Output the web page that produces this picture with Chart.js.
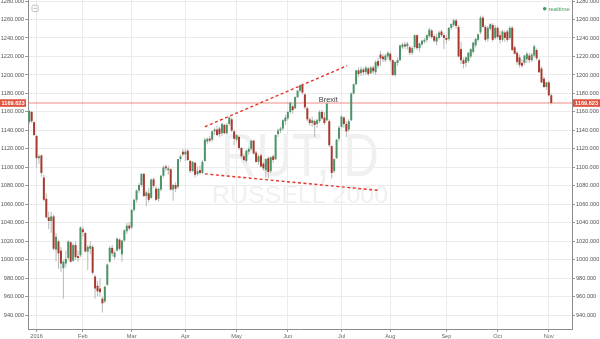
<!DOCTYPE html>
<html>
<head>
<meta charset="utf-8">
<script src="https://cdn.jsdelivr.net/npm/chart.js@4.4.1/dist/chart.umd.min.js"></script>
<style>
  html, body { margin: 0; padding: 0; background: #ffffff; overflow: hidden; }
  canvas { display: block; }
</style>
</head>
<body>
<canvas id="graficoRut" width="600" height="339"></canvas>
<script>
// ==========================================
// DADOS (RUT, diário) - [abertura, máxima, mínima, fechamento]
// ==========================================
const monthNames = ['', '2016', 'Feb', 'Mar', 'Apr', 'May', 'Jun', 'Jul', 'Aug', 'Sep', 'Oct', 'Nov'];

const dec2015 = [
    [1149, 1162, 1147, 1161], [1160, 1161, 1148, 1150], [1149, 1150, 1134, 1135]
];
const jan2016 = [
    [1134, 1135, 1100, 1110], [1110, 1114, 1104, 1112], [1113, 1114, 1090, 1094], [1089, 1092, 1063, 1065],
    [1066, 1072, 1045, 1046], [1046, 1052, 1033, 1042], [1042, 1052, 1029, 1047], [1047, 1049, 1010, 1012],
    [1011, 1029, 998, 1025], [1020, 1022, 990, 1007], [1010, 1014, 987, 996], [991, 1000, 958, 998],
    [996, 1010, 992, 1001], [1002, 1021, 1000, 1020], [1019, 1020, 997, 998], [999, 1018, 998, 1016],
    [1016, 1020, 1000, 1003], [1004, 1010, 998, 1002], [1005, 1036, 1003, 1035]
];
const feb2016 = [
    [1033, 1036, 1025, 1030], [1029, 1030, 1008, 1009], [1009, 1016, 989, 1014], [1012, 1020, 1006, 1015],
    [1014, 1016, 984, 986], [982, 984, 958, 969], [972, 977, 961, 966], [969, 980, 960, 965],
    [958, 960, 943, 953], [955, 972, 953, 971], [973, 996, 972, 995], [998, 1015, 997, 1013],
    [1013, 1016, 1004, 1007], [1003, 1010, 1000, 1008], [1010, 1024, 1009, 1023], [1022, 1023, 1010, 1012],
    [1006, 1021, 998, 1021], [1021, 1033, 1019, 1032], [1031, 1040, 1028, 1037], [1037, 1041, 1032, 1034]
];
const mar2016 = [
    [1035, 1055, 1033, 1054], [1054, 1066, 1052, 1065], [1065, 1076, 1062, 1075], [1075, 1083, 1072, 1081],
    [1081, 1094, 1079, 1093], [1093, 1094, 1068, 1069], [1069, 1075, 1058, 1073], [1072, 1078, 1062, 1065],
    [1067, 1088, 1066, 1087], [1087, 1089, 1078, 1080], [1077, 1080, 1064, 1065], [1066, 1078, 1063, 1077],
    [1076, 1092, 1074, 1091], [1091, 1102, 1089, 1100], [1101, 1103, 1096, 1099], [1097, 1102, 1092, 1099],
    [1098, 1099, 1075, 1076], [1076, 1082, 1064, 1081], [1081, 1084, 1073, 1077], [1079, 1109, 1077, 1109],
    [1109, 1114, 1106, 1112], [1117, 1120, 1112, 1114]
];
const apr2016 = [
    [1114, 1120, 1107, 1117], [1118, 1120, 1107, 1108], [1107, 1108, 1094, 1096], [1096, 1107, 1095, 1106],
    [1105, 1106, 1089, 1092], [1093, 1101, 1091, 1096], [1097, 1102, 1092, 1094], [1094, 1108, 1093, 1106],
    [1107, 1132, 1106, 1130], [1128, 1132, 1125, 1131], [1131, 1134, 1127, 1129], [1130, 1140, 1128, 1139],
    [1139, 1143, 1135, 1141], [1141, 1145, 1134, 1135], [1142, 1144, 1133, 1136], [1137, 1148, 1134, 1147],
    [1146, 1147, 1136, 1137], [1137, 1148, 1136, 1146], [1147, 1155, 1145, 1154], [1152, 1154, 1138, 1140],
    [1139, 1141, 1124, 1131]
];
const may2016 = [
    [1130, 1136, 1127, 1135], [1133, 1134, 1119, 1121], [1121, 1122, 1110, 1112], [1112, 1114, 1106, 1108],
    [1107, 1119, 1105, 1118], [1117, 1122, 1114, 1120], [1120, 1130, 1118, 1129], [1129, 1130, 1114, 1115],
    [1116, 1118, 1105, 1106], [1106, 1114, 1103, 1112], [1113, 1115, 1100, 1101], [1104, 1106, 1097, 1099],
    [1097, 1110, 1089, 1109], [1110, 1112, 1088, 1095], [1096, 1112, 1094, 1111], [1112, 1114, 1105, 1108],
    [1109, 1136, 1108, 1135], [1136, 1142, 1133, 1140], [1140, 1144, 1137, 1142], [1142, 1152, 1140, 1151],
    [1150, 1157, 1146, 1154]
];
const jun2016 = [
    [1153, 1161, 1151, 1160], [1160, 1171, 1158, 1170], [1166, 1168, 1158, 1162], [1164, 1177, 1163, 1176],
    [1176, 1184, 1175, 1183], [1183, 1190, 1181, 1189], [1189, 1191, 1179, 1181], [1179, 1180, 1163, 1165],
    [1164, 1166, 1150, 1152], [1152, 1154, 1145, 1148], [1148, 1155, 1144, 1151], [1150, 1152, 1133, 1146],
    [1147, 1153, 1143, 1151], [1150, 1162, 1148, 1160], [1160, 1162, 1151, 1153], [1154, 1160, 1146, 1148],
    [1151, 1171, 1150, 1169], [1150, 1152, 1122, 1124], [1123, 1124, 1088, 1094], [1096, 1110, 1094, 1109],
    [1110, 1131, 1109, 1130], [1131, 1145, 1128, 1143]
];
const jul2016 = [
    [1144, 1157, 1142, 1155], [1154, 1155, 1143, 1147], [1147, 1150, 1133, 1139], [1141, 1152, 1138, 1150],
    [1151, 1181, 1150, 1180], [1180, 1191, 1179, 1190], [1190, 1206, 1189, 1205], [1205, 1208, 1198, 1201],
    [1202, 1209, 1199, 1206], [1206, 1208, 1200, 1203], [1203, 1210, 1200, 1208], [1207, 1209, 1199, 1201],
    [1202, 1210, 1201, 1208], [1208, 1210, 1201, 1204], [1203, 1216, 1200, 1214], [1215, 1218, 1207, 1210],
    [1222, 1226, 1210, 1218], [1220, 1223, 1214, 1217], [1216, 1223, 1214, 1221], [1220, 1226, 1217, 1224]
];
const aug2016 = [
    [1223, 1225, 1214, 1216], [1216, 1217, 1199, 1200], [1200, 1215, 1198, 1214], [1213, 1219, 1210, 1216],
    [1216, 1233, 1215, 1232], [1230, 1235, 1228, 1233], [1233, 1236, 1228, 1231], [1231, 1236, 1227, 1234],
    [1230, 1232, 1222, 1224], [1224, 1231, 1222, 1229], [1230, 1244, 1228, 1243], [1243, 1244, 1227, 1229],
    [1229, 1235, 1225, 1234], [1233, 1238, 1231, 1237], [1236, 1240, 1234, 1238], [1238, 1244, 1235, 1243],
    [1242, 1251, 1240, 1249], [1248, 1250, 1239, 1241], [1242, 1244, 1235, 1237], [1236, 1245, 1232, 1241],
    [1240, 1248, 1238, 1246], [1247, 1249, 1241, 1243], [1243, 1245, 1228, 1240]
];
const sep2016 = [
    [1240, 1243, 1234, 1238], [1239, 1252, 1237, 1251], [1251, 1256, 1249, 1255], [1254, 1261, 1252, 1259],
    [1259, 1261, 1250, 1253], [1252, 1254, 1219, 1220], [1228, 1236, 1212, 1216], [1216, 1219, 1207, 1212],
    [1213, 1220, 1209, 1219], [1215, 1225, 1213, 1224], [1220, 1229, 1218, 1228], [1225, 1236, 1223, 1235],
    [1232, 1240, 1230, 1239], [1238, 1245, 1236, 1244], [1246, 1264, 1244, 1262], [1262, 1264, 1251, 1252],
    [1252, 1254, 1236, 1238], [1239, 1253, 1236, 1251], [1250, 1256, 1248, 1255], [1254, 1256, 1236, 1238],
    [1240, 1254, 1238, 1251]
];
const oct2016 = [
    [1251, 1253, 1239, 1241], [1243, 1248, 1234, 1238], [1238, 1249, 1236, 1247], [1246, 1248, 1236, 1240],
    [1247, 1249, 1236, 1238], [1240, 1253, 1238, 1251], [1251, 1253, 1226, 1227], [1230, 1232, 1222, 1223],
    [1224, 1226, 1211, 1214], [1219, 1222, 1208, 1211], [1213, 1217, 1208, 1210], [1213, 1222, 1211, 1221],
    [1217, 1225, 1213, 1223], [1221, 1224, 1213, 1216], [1216, 1224, 1214, 1222], [1221, 1233, 1219, 1231],
    [1227, 1229, 1216, 1218], [1216, 1218, 1202, 1203], [1207, 1209, 1191, 1192], [1196, 1198, 1186, 1187],
    [1187, 1193, 1184, 1192]
];
const nov2016 = [
    [1192, 1194, 1177, 1178], [1178, 1180, 1168, 1169.623]
];

const yTicks = [940, 960, 980, 1000, 1020, 1040, 1060, 1080, 1100, 1120, 1140, 1160, 1180, 1200, 1220, 1240, 1260, 1280];
const lastPrice = 1169.623;
const upperTrend = [{ x: 72, y: 1144 }, { x: 130.3, y: 1210 }];
const lowerTrend = [{ x: 72, y: 1093 }, { x: 143.8, y: 1075 }];
const brexitDay = 123;

// ==========================================
// MONTAGEM
// ==========================================
const months = [dec2015, jan2016, feb2016, mar2016, apr2016, may2016, jun2016, jul2016, aug2016, sep2016, oct2016, nov2016];
const candles = [].concat(...months);

const monthStarts = [];
let pos = 0;
months.forEach((m, k) => {
    if (monthNames[k]) monthStarts.push({ value: pos, label: monthNames[k] });
    pos += m.length;
});

const GREEN = '#4c9468';
const RED = '#a83a2d';

const bodies = candles.map((c, i) => ({ x: i, y: [c[0], c[3]] }));
const wicks = candles.map((c, i) => ({ x: i, y: [c[2], c[1]] }));
const bodyColors = candles.map(c => c[3] >= c[0] ? GREEN : RED);

const fontBase = "'Liberation Sans', Arial, sans-serif";

function fixWidth(w) {
    return (scale) => { scale.width = w; scale.paddingTop = 0; scale.paddingBottom = 0; };
}
function setYTicks(scale) {
    scale.ticks = yTicks.map(v => ({ value: v }));
}

function drawFitted(ctx, text, font, cx, baseline, targetWidth) {
    ctx.font = font;
    const w = ctx.measureText(text).width;
    ctx.save();
    ctx.translate(cx, baseline);
    ctx.scale(targetWidth / w, 1);
    ctx.textAlign = 'center';
    ctx.textBaseline = 'alphabetic';
    ctx.fillText(text, 0, 0);
    ctx.restore();
}

const extras = {
    id: 'extras',
    beforeDatasetsDraw(chart) {
        const { ctx, chartArea: a, scales } = chart;
        const cx = (a.left + a.right) / 2;
        ctx.save();
        ctx.fillStyle = '#f0f0f0';
        drawFitted(ctx, 'RUT, D', `62px ${fontBase}`, cx, 176, 158);
        drawFitted(ctx, 'RUSSELL 2000', `24px ${fontBase}`, cx, 203, 176);

        // linha do último preço
        const py = scales.y.getPixelForValue(lastPrice);
        ctx.strokeStyle = 'rgba(236, 105, 95, 0.5)';
        ctx.lineWidth = 1.5;
        ctx.beginPath();
        ctx.moveTo(a.left, py);
        ctx.lineTo(a.right, py);
        ctx.stroke();
        ctx.restore();
    },
    afterDraw(chart) {
        const { ctx, chartArea: a, scales } = chart;
        ctx.save();

        // caixas do último preço nos dois eixos
        const py = scales.y.getPixelForValue(lastPrice);
        ctx.fillStyle = '#e0553f';
        ctx.fillRect(0, py - 3.8, a.left - 2, 7.6);
        ctx.fillRect(a.right + 1, py - 3.8, chart.width - a.right - 1, 7.6);
        ctx.fillStyle = '#ffffff';
        ctx.font = `bold 5.6px ${fontBase}`;
        ctx.textAlign = 'center';
        ctx.textBaseline = 'middle';
        ctx.fillText(lastPrice.toFixed(3), (a.left - 2) / 2, py + 0.3);
        ctx.fillText(lastPrice.toFixed(3), (a.right + 1 + chart.width) / 2, py + 0.3);

        // anotação Brexit
        ctx.fillStyle = '#444444';
        ctx.font = `7.5px ${fontBase}`;
        ctx.textBaseline = 'alphabetic';
        ctx.fillText('Brexit', scales.x.getPixelForValue(brexitDay) - 1, scales.y.getPixelForValue(1171));

        // legenda "realtime"
        ctx.fillStyle = '#3f9a5e';
        ctx.beginPath();
        ctx.arc(544.7, 8.7, 1.8, 0, Math.PI * 2);
        ctx.fill();
        ctx.font = `6px ${fontBase}`;
        ctx.textAlign = 'left';
        ctx.textBaseline = 'middle';
        ctx.fillText('realtime', 548.5, 8.9);

        // ícone no canto superior esquerdo
        ctx.strokeStyle = '#b0b0b0';
        ctx.lineWidth = 0.8;
        ctx.beginPath();
        ctx.roundRect(32, 5.2, 6.2, 6.4, 1.4);
        ctx.stroke();
        ctx.beginPath();
        ctx.moveTo(33.4, 8.4);
        ctx.lineTo(36.8, 8.4);
        ctx.stroke();
        ctx.restore();
    }
};

document.addEventListener('DOMContentLoaded', () => {
    const ctx = document.getElementById('graficoRut');

    new Chart(ctx.getContext('2d'), {
        type: 'bar',
        data: {
            datasets: [
                {
                    type: 'line',
                    data: upperTrend,
                    borderColor: '#e8332b',
                    borderWidth: 1.4,
                    borderDash: [3, 2.5],
                    pointRadius: 0,
                    order: 0
                },
                {
                    type: 'line',
                    data: lowerTrend,
                    borderColor: '#e8332b',
                    borderWidth: 1.4,
                    borderDash: [3, 2.5],
                    pointRadius: 0,
                    order: 0
                },
                {
                    data: bodies,
                    backgroundColor: bodyColors,
                    borderWidth: 0,
                    barThickness: 2,
                    inflateAmount: 0,
                    grouped: false,
                    order: 1
                },
                {
                    data: wicks,
                    backgroundColor: '#b8b8b8',
                    borderWidth: 0,
                    barThickness: 1,
                    inflateAmount: 0,
                    grouped: false,
                    order: 2
                }
            ]
        },
        options: {
            responsive: false,
            animation: false,
            layout: { padding: 0 },
            plugins: {
                legend: { display: false },
                tooltip: { enabled: false }
            },
            scales: {
                x: {
                    type: 'linear',
                    min: -0.5,
                    max: 222.5,
                    offset: false,
                    afterBuildTicks: (scale) => { scale.ticks = monthStarts.map(m => ({ value: m.value })); },
                    afterFit: (scale) => { scale.height = 10; scale.paddingLeft = 0; scale.paddingRight = 0; },
                    grid: { color: '#ebebeb', tickColor: '#999999', tickLength: 3, offset: false },
                    border: { color: '#8c8c8c', width: 1 },
                    ticks: {
                        autoSkip: false,
                        maxRotation: 0,
                        padding: 1,
                        color: '#666666',
                        font: { size: 5.6, family: fontBase },
                        callback: (v) => {
                            const m = monthStarts.find(s => s.value === v);
                            return m ? m.label : '';
                        }
                    }
                },
                y: {
                    position: 'left',
                    min: 925.2,
                    max: 1281.1,
                    afterBuildTicks: setYTicks,
                    afterFit: fixWidth(28),
                    grid: { color: '#ebebeb', tickColor: '#999999', tickLength: 3 },
                    border: { color: '#8c8c8c', width: 1 },
                    ticks: {
                        padding: 1,
                        color: '#555555',
                        font: { size: 5.6, family: fontBase },
                        callback: (v) => Number(v).toFixed(3)
                    }
                },
                y2: {
                    position: 'right',
                    min: 925.2,
                    max: 1281.1,
                    afterBuildTicks: setYTicks,
                    afterFit: fixWidth(28),
                    grid: { drawOnChartArea: false, tickColor: '#999999', tickLength: 3 },
                    border: { color: '#8c8c8c', width: 1 },
                    ticks: {
                        padding: 1,
                        color: '#555555',
                        font: { size: 5.6, family: fontBase },
                        callback: (v) => Number(v).toFixed(3)
                    }
                }
            }
        },
        plugins: [extras]
    });
});
</script>
</body>
</html>
